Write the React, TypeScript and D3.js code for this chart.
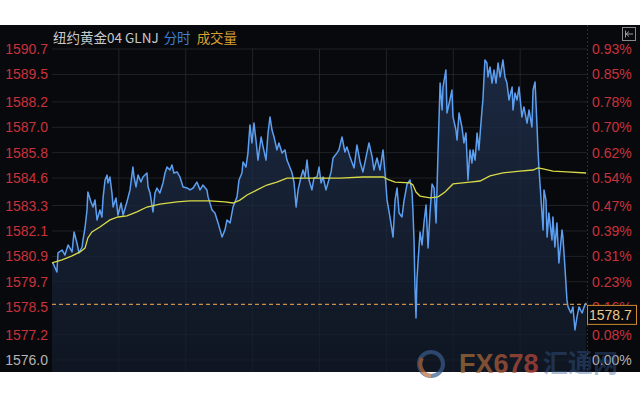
import React from 'react';
import * as d3 from 'd3';

// minutes since session open, and last price at that minute
const priceMinutes = [
  0, 0.4, 2.2, 2.7, 4.5, 5.8, 7.2, 9.0, 9.9, 11.2, 12.1, 13.5, 13.9, 14.8, 15.7, 16.1, 17.5, 18.4, 19.3, 20.2,
  21.5, 22.4, 22.9, 23.8, 24.7, 25.1, 26.0, 26.9, 27.4, 28.7, 29.6, 31.0, 31.9, 33.6, 35.0, 36.3, 36.8, 37.7, 38.6, 39.9,
  40.8, 42.6, 43.1, 44.0, 45.3, 46.2, 47.1, 48.4, 49.8, 50.7, 51.6, 52.9, 53.8, 54.7, 56.1, 57.4, 58.8, 60.6, 61.9,
  63.3, 65.0, 66.4, 67.7, 69.5, 70.0, 71.8, 73.1, 74.5, 76.3, 77.6, 78.5, 79.9, 81.2, 83.0, 83.9, 85.2, 85.7, 87.0, 87.9,
  88.8, 89.7, 90.6, 91.5, 92.4, 93.8, 94.7, 96.0, 96.9, 97.8, 98.7, 99.6, 100.9, 101.8, 103.2, 104.5, 105.4, 106.3, 107.7,
  108.6, 109.5, 110.4, 111.7, 112.6, 113.5, 114.4, 115.3, 116.6, 117.5, 118.9, 119.8, 120.7, 121.6, 122.9, 123.8, 125.2,
  126.1, 127.8, 128.7, 130.1, 131.4, 132.3, 133.7, 135.5, 136.8, 138.2, 139.5, 140.9, 142.2, 143.6, 144.4, 145.8, 147.1,
  148.5, 149.4, 150.3, 151.6, 153.0, 153.9, 154.8, 155.7, 157.0, 157.9, 159.3, 160.6, 161.5, 161.9, 162.4, 162.8, 163.3,
  163.7, 164.2, 165.1, 166.0, 166.9, 167.8, 168.7, 169.6, 170.5, 171.4, 172.3, 172.7, 173.2, 174.1, 175.0, 175.4, 176.7,
  177.2, 178.5, 179.4, 179.9, 181.2, 181.7, 182.6, 183.9, 184.8, 185.7, 186.6, 187.5, 188.4, 188.9, 189.8, 190.7, 191.5,
  192.9, 193.3, 194.2, 195.1, 195.6, 196.5, 197.4, 198.3, 199.2, 200.1, 201.0, 202.3, 203.2, 204.1, 205.0, 206.4, 206.8,
  207.7, 208.6, 209.5, 210.8, 211.7, 213.1, 214.0, 215.3, 215.8, 216.7, 217.6, 218.0, 218.5, 219.4, 220.3, 220.7, 221.6,
  222.1, 222.9, 224.3, 224.7, 225.6, 226.5, 227.4, 228.8, 229.2, 230.1, 231.0, 231.5, 232.8, 233.7, 234.6, 235.5, 236.4,
  237.8, 238.7, 239.6,
];

const prices = [
  1580.59, 1580.59, 1580.16, 1581.06, 1581.2, 1580.96, 1581.44, 1581.11, 1582.05, 1581.53, 1581.06, 1581.34, 1581.67, 1582.24, 1583.09, 1583.94, 1583.47, 1583.23, 1583.56, 1582.62,
  1583.09, 1582.76, 1583.66, 1584.51, 1584.74, 1584.37, 1584.65, 1583.89, 1583.23, 1583.66, 1582.85, 1583.42, 1582.85, 1583.47, 1584.04, 1585.12, 1584.65, 1584.18, 1584.74, 1584.41,
  1584.65, 1584.84, 1584.18, 1583.89, 1583.0, 1583.89, 1584.13, 1583.89, 1584.37, 1584.84, 1585.12, 1584.98, 1585.22, 1584.84, 1584.89, 1584.65, 1584.18, 1584.13, 1584.04,
  1584.13, 1584.41, 1584.04, 1584.27, 1584.04, 1583.71, 1583.09, 1582.95, 1582.48, 1581.81, 1582.15, 1582.62, 1582.48, 1583.23, 1583.71, 1584.51, 1584.84, 1585.36, 1585.12, 1585.78,
  1587.11, 1586.26, 1587.2, 1586.4, 1585.45, 1586.54, 1586.07, 1585.45, 1586.73, 1587.49, 1586.87, 1586.54, 1585.93, 1586.26, 1585.78, 1585.93, 1585.45, 1585.22, 1584.84,
  1584.37, 1583.23, 1584.04, 1584.65, 1584.98, 1584.65, 1585.45, 1584.51, 1584.04, 1584.6, 1584.65, 1585.12, 1584.37, 1584.65, 1584.04, 1584.37, 1584.89,
  1585.55, 1585.78, 1585.93, 1586.54, 1585.83, 1586.07, 1585.6, 1585.08, 1586.16, 1585.36, 1584.89, 1585.6, 1586.26, 1585.6, 1584.98, 1585.55, 1584.98,
  1585.93, 1584.84, 1583.56, 1582.76, 1581.81, 1583.56, 1584.13, 1582.95, 1582.76, 1583.52, 1584.32, 1584.51, 1583.94, 1583.09, 1581.67, 1579.55, 1577.99,
  1579.78, 1580.63, 1582.05, 1581.44, 1582.52, 1583.33, 1581.29, 1583.0, 1584.32, 1584.13, 1582.48, 1584.04, 1585.93, 1589.09, 1587.82, 1588.9, 1589.71,
  1587.68, 1588.29, 1588.76, 1587.49, 1586.87, 1586.4, 1587.68, 1587.01, 1586.26, 1586.73, 1584.51, 1585.93, 1585.31, 1585.93, 1585.45, 1586.73, 1585.93,
  1587.82, 1588.29, 1590.18, 1590.04, 1589.38, 1589.85, 1589.09, 1589.71, 1589.09, 1590.04, 1589.38, 1590.18, 1589.38, 1589.09, 1588.29, 1588.9, 1587.82,
  1588.62, 1588.29, 1588.9, 1587.49, 1587.96, 1587.2, 1587.82, 1587.01, 1588.76, 1589.14, 1587.01, 1585.93, 1584.98, 1583.56, 1582.15, 1584.04, 1583.56,
  1581.81, 1582.95, 1581.67, 1582.76, 1581.34, 1582.48, 1580.59, 1582.15, 1581.81, 1580.4, 1578.84, 1578.51, 1578.22, 1578.51, 1577.42, 1578.03, 1578.51,
  1578.22, 1578.51, 1578.7,
];

// average price line
const avgMinutes = [
  0, 4.5, 9.0, 12.6, 14.8, 16.1, 17.9, 21.5, 26.0, 29.6, 33.6, 38.1, 42.6, 48.4, 56.1, 61.9, 70.9, 77.6, 81.2, 84.3,
  87.5, 92.0, 96.4, 100.9, 105.4, 111.3, 129.2, 139.5, 148.5, 151.2, 153.9, 160.6, 161.9, 163.3, 165.1, 169.6, 173.2,
  176.3, 179.9, 187.5, 192.0, 196.5, 202.3, 209.9, 215.8, 218.0, 220.3, 224.7, 231.0, 239.6,
];
const avgPrices = [
  1580.59, 1580.73, 1580.92, 1581.11, 1581.29, 1581.77, 1582.05, 1582.29, 1582.62, 1582.76, 1582.81, 1583.0, 1583.23, 1583.37, 1583.47, 1583.52, 1583.52, 1583.47, 1583.42, 1583.56,
  1583.8, 1584.04, 1584.27, 1584.41, 1584.6, 1584.6, 1584.6, 1584.65, 1584.65, 1584.51, 1584.41, 1584.37, 1584.27, 1583.94, 1583.75, 1583.66, 1583.71,
  1583.94, 1584.32, 1584.41, 1584.46, 1584.7, 1584.84, 1584.93, 1584.98, 1585.08, 1585.03, 1584.93, 1584.89, 1584.84,
];

const priceTicks = [1590.7, 1589.5, 1588.2, 1587.0, 1585.8, 1584.6, 1583.3, 1582.1, 1580.9, 1579.7, 1578.5, 1577.2, 1576.0];
const pctLabels = ['0.93%', '0.85%', '0.78%', '0.70%', '0.62%', '0.54%', '0.47%', '0.39%', '0.31%', '0.23%', '0.16%', '0.08%', '0.00%'];
const timeGrid = [30, 60, 90, 120, 150, 180, 210];
const lastPrice = 1578.7;

const W = 640;
const H = 400;
const left = 52;
const right = 587;
const top = 49;
const base = 360;
const chartTop = 25;
const chartBottom = 372;

export default function App() {
  const x = d3.scaleLinear().domain([0, 240]).range([left, right]);
  const y = d3.scaleLinear().domain([1576.0, 1590.7]).range([base, top]);

  const pts = priceMinutes.map((m, i) => [m, prices[i]] as [number, number]);
  const avgPts = avgMinutes.map((m, i) => [m, avgPrices[i]] as [number, number]);

  const line = d3.line<[number, number]>().x(d => x(d[0])).y(d => y(d[1]));
  const area = d3
    .area<[number, number]>()
    .x(d => x(d[0]))
    .y0(chartBottom)
    .y1(d => y(d[1]));

  const labelFont = '"Liberation Sans", Arial, sans-serif';
  const red = '#c8323c';
  const grey = '#b4b4b4';

  return (
    <svg width={W} height={H} style={{ position: 'absolute', left: 0, top: 0 }}>
      <defs>
        <linearGradient id="fillGrad" x1="0" y1="0" x2="0" y2="1">
          <stop offset="0%" stopColor="#1b2840" />
          <stop offset="100%" stopColor="#0f1622" />
        </linearGradient>
        <linearGradient id="fxGrad" x1="0" y1="0" x2="1" y2="0">
          <stop offset="0%" stopColor="#a8773a" />
          <stop offset="100%" stopColor="#c0443c" />
        </linearGradient>
      </defs>
      <rect x={0} y={0} width={W} height={H} fill="#ffffff" />
      <rect x={0} y={chartTop} width={W} height={chartBottom - chartTop} fill="#08090c" />

      {/* grid */}
      {priceTicks.map(t => (
        <line key={'h' + t} x1={left} x2={right} y1={y(t)} y2={y(t)} stroke="#1a1d24" strokeWidth={1} />
      ))}
      {timeGrid.map(m => (
        <line key={'v' + m} x1={x(m)} x2={x(m)} y1={top} y2={chartBottom} stroke="#1a1d24" strokeWidth={1} />
      ))}

      <path d={area(pts) || ''} fill="url(#fillGrad)" />
      {/* grid drawn faintly over the fill */}
      {priceTicks.map(t => (
        <line key={'ho' + t} x1={left} x2={right} y1={y(t)} y2={y(t)} stroke="#ffffff" strokeOpacity={0.03} />
      ))}
      {timeGrid.map(m => (
        <line key={'vo' + m} x1={x(m)} x2={x(m)} y1={top} y2={chartBottom} stroke="#ffffff" strokeOpacity={0.03} />
      ))}

      <line x1={right + 0.5} x2={right + 0.5} y1={chartTop} y2={chartBottom} stroke="#2a2c33" strokeDasharray="2,2" />

      <line
        x1={left}
        x2={right}
        y1={y(lastPrice) + 1.5}
        y2={y(lastPrice) + 1.5}
        stroke="#c8904a"
        strokeWidth={1.2}
        strokeDasharray="4,3"
      />

      <path d={line(pts) || ''} fill="none" stroke="#5c9ff0" strokeWidth={1.5} strokeLinejoin="round" />
      <path d={line(avgPts) || ''} fill="none" stroke="#d8da48" strokeWidth={1.3} />

      {/* left axis */}
      {priceTicks.map((t, i) => (
        <text
          key={'l' + t}
          x={48}
          y={y(t)}
          dy="0.36em"
          textAnchor="end"
          fontFamily={labelFont}
          fontSize={14}
          fill={i === priceTicks.length - 1 ? grey : red}
        >
          {t.toFixed(1)}
        </text>
      ))}

      {/* right axis */}
      {pctLabels.map((p, i) => (
        <text
          key={'r' + p}
          x={592}
          y={y(priceTicks[i])}
          dy="0.36em"
          fontFamily={labelFont}
          fontSize={14}
          fill={i === pctLabels.length - 1 ? grey : red}
        >
          {p}
        </text>
      ))}

      {/* current price tag */}
      <rect x={587.5} y={y(lastPrice) + 2.5} width={49} height={19} fill="#08090c" stroke="#d08a30" strokeWidth={1} />
      <text
        x={589}
        y={y(lastPrice) + 12}
        dy="0.36em"
        fontFamily={labelFont}
        fontSize={14}
        fill="#ecc98e"
      >
        {lastPrice.toFixed(1)}
      </text>

      {/* title */}
      <text x={53} y={43} fontFamily='"Noto Sans CJK SC", sans-serif' fontSize={13.5}>
        <tspan fill="#c8c8c8">纽约黄金04 GLNJ</tspan>
        <tspan fill="#3f80d2" dx={5}>分时</tspan>
        <tspan fill="#d9a030" dx={6}>成交量</tspan>
      </text>

      {/* top-right icon */}
      <rect x={622.5} y={27.5} width={13} height={13} fill="none" stroke="#8a8a8a" />
      <path d="M625.5,30.5 V37.5 M626,34 H633 M629,31.5 L626,34 L629,36.5" fill="none" stroke="#9a9a9a" />

      {/* watermark */}
      <g opacity={0.7}>
        <circle cx={431} cy={364} r={12} fill="none" stroke="#3a5c8c" strokeWidth={4} />
        <path d="M422,358 A12,12 0 0,0 431,376" fill="none" stroke="#b86a3a" strokeWidth={4} />
        <text x={459} y={373} fontFamily='"Liberation Sans", Arial, sans-serif' fontWeight="bold" fontSize={27} fill="url(#fxGrad)">
          FX678
        </text>
        <text x={543} y={372} fontFamily='"Noto Sans CJK SC", sans-serif' fontWeight="bold" fontSize={25} fill="#3a5f9a" opacity={0.55}>
          汇通网
        </text>
      </g>
    </svg>
  );
}
